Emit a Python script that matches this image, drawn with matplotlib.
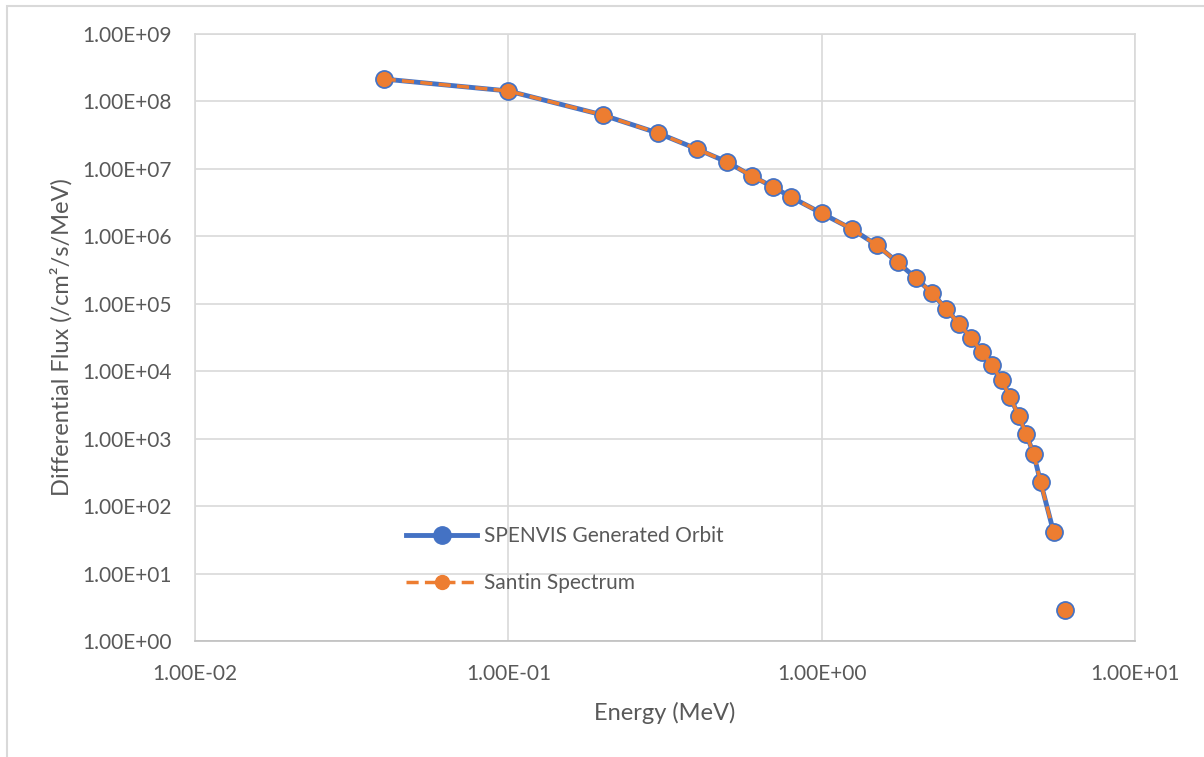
import matplotlib
matplotlib.use("Agg")
import matplotlib.pyplot as plt
import numpy as np
from matplotlib.patches import Rectangle
from matplotlib.ticker import LogLocator, FuncFormatter

plt.rcParams['font.family'] = ['Lato', 'DejaVu Sans']

# energies (MeV); nan entry marks the gap in the line before the last point
energy = [0.04, 0.1, 0.2, 0.3, 0.4, 0.5, 0.6, 0.7, 0.8, 1.0, 1.25, 1.5, 1.75,
          2.0, 2.25, 2.5, 2.75, 3.0, 3.25, 3.5, 3.75, 4.0, 4.25, 4.5, 4.75,
          5.0, 5.5, 5.75, 6.0]
spenvis_flux = [2.15e8, 1.43e8, 6.3e7, 3.4e7, 1.97e7, 1.26e7, 7.8e6, 5.4e6,
                3.8e6, 2.2e6, 1.28e6, 7.4e5, 4.1e5, 2.4e5, 1.44e5, 8.3e4,
                5.0e4, 3.1e4, 1.9e4, 1.23e4, 7.3e3, 4.1e3, 2.2e3, 1.16e3,
                5.9e2, 2.25e2, 41.0, np.nan, 2.9]
santin_flux = [2.15e8, 1.43e8, 6.3e7, 3.4e7, 1.97e7, 1.26e7, 7.8e6, 5.4e6,
               3.8e6, 2.2e6, 1.28e6, 7.4e5, 4.1e5, 2.4e5, 1.44e5, 8.3e4,
               5.0e4, 3.1e4, 1.9e4, 1.23e4, 7.3e3, 4.1e3, 2.2e3, 1.16e3,
               5.9e2, 2.25e2, 41.0, np.nan, 2.9]

series_names = ["SPENVIS Generated Orbit", "Santin Spectrum"]

blue = "#4472C4"
orange = "#ED7D31"
grid_c = "#D9D9D9"
text_c = "#595959"

fig = plt.figure(figsize=(12.04, 7.57), dpi=100)
ax = fig.add_axes([195 / 1204, 1 - 641 / 757, 940 / 1204, 607 / 757])

ax.plot(energy, spenvis_flux, color=blue, lw=3.5, marker='o', ms=12.5,
        mfc=blue, mec=blue, label=series_names[0], zorder=3)
ax.plot(energy, santin_flux, color=orange, lw=2.5, ls=(0, (3.5, 1.8)),
        marker='o', ms=10, mfc=orange, mec=orange, label=series_names[1],
        zorder=4)

ax.set_xscale('log')
ax.set_yscale('log')
ax.set_xlim(0.01, 10)
ax.set_ylim(1, 1e9)
ax.xaxis.set_major_locator(LogLocator(base=10, numticks=10))
ax.yaxis.set_major_locator(LogLocator(base=10, numticks=12))
ax.xaxis.set_minor_locator(plt.NullLocator())
ax.yaxis.set_minor_locator(plt.NullLocator())
fmt = FuncFormatter(lambda v, p: ("%.2E" % v))
ax.xaxis.set_major_formatter(fmt)
ax.yaxis.set_major_formatter(fmt)

ax.grid(True, which='major', color=grid_c, lw=1.2)
ax.set_axisbelow(True)
for s in ax.spines.values():
    s.set_color(grid_c)
    s.set_linewidth(1.2)
ax.spines['bottom'].set_color("#BFBFBF")
ax.tick_params(length=0, labelsize=15, colors=text_c)
ax.tick_params(axis='y', pad=17)
ax.tick_params(axis='x', pad=16.5)

ax.set_xlabel("Energy (MeV)", fontsize=17, color=text_c, labelpad=13)
ax.set_ylabel("Differential Flux (/cm²/s/MeV)", fontsize=17, color=text_c,
              labelpad=7)

leg = ax.legend(loc='upper left', bbox_to_anchor=(0.205, 0.22), frameon=False,
                fontsize=15, handlelength=3.4, labelspacing=1.3,
                handletextpad=0.3, labelcolor=text_c)

# outer chart frame
fig.patches.append(Rectangle((7 / 1204, -0.1), 1.2, 1 - 6 / 757 + 0.1,
                             transform=fig.transFigure, fill=False,
                             ec=grid_c, lw=1.5))

fig.savefig("out.png", dpi=100)
